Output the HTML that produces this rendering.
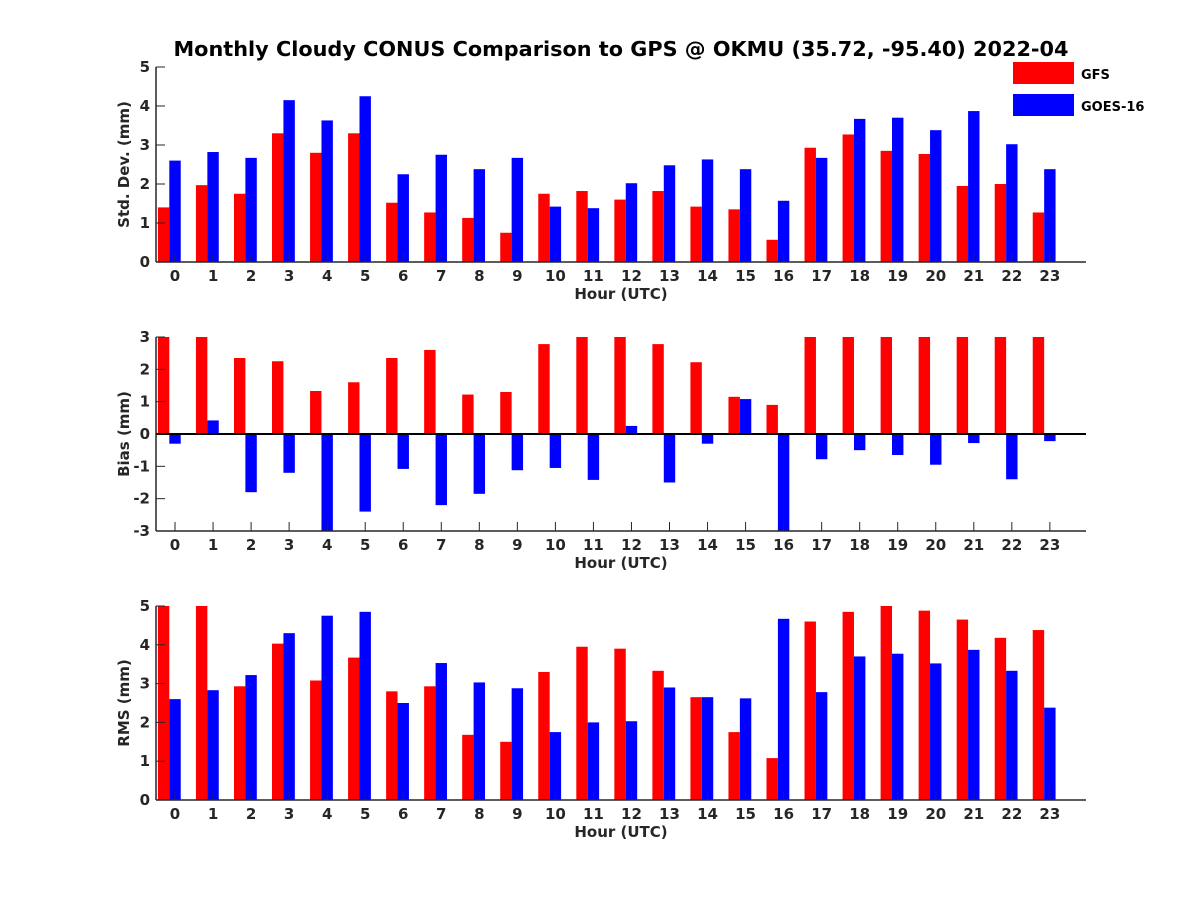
<!DOCTYPE html>
<html><head><meta charset="utf-8"><style>
body{margin:0;background:#fff}
svg text{font-family:"DejaVu Sans","Liberation Sans",sans-serif;font-weight:bold;fill:#262626}
</style></head><body>
<svg id="c" width="1200" height="900" xmlns="http://www.w3.org/2000/svg">
<rect width="1200" height="900" fill="#fff"/>
<text x="621" y="56" text-anchor="middle" font-size="20.8" style="fill:#000">Monthly Cloudy CONUS Comparison to GPS @ OKMU (35.72, -95.40) 2022-04</text>
<g>
<rect x="1013" y="62" width="61" height="22" fill="#ff0000"/>
<text x="1081" y="79" font-size="13" style="fill:#000">GFS</text>
<rect x="1013" y="94" width="61" height="22" fill="#0000ff"/>
<text x="1081" y="111" font-size="13" style="fill:#000">GOES-16</text>
</g>
</svg>
<script>
const hours=[0,1,2,3,4,5,6,7,8,9,10,11,12,13,14,15,16,17,18,19,20,21,22,23];
const stdGFS=[1.4,1.97,1.75,3.3,2.8,3.3,1.52,1.27,1.13,0.75,1.75,1.82,1.6,1.82,1.42,1.35,0.57,2.93,3.27,2.85,2.77,1.95,2.0,1.27];
const stdGOES=[2.6,2.82,2.67,4.15,3.63,4.25,2.25,2.75,2.38,2.67,1.42,1.38,2.02,2.48,2.63,2.38,1.57,2.67,3.67,3.7,3.38,3.87,3.02,2.38];
const biasGFS=[3.5,3.5,2.35,2.25,1.33,1.6,2.35,2.6,1.22,1.3,2.78,3.5,3.5,2.78,2.22,1.15,0.9,3.5,3.5,3.5,3.5,3.5,3.5,3.5];
const biasGOES=[-0.3,0.42,-1.8,-1.2,-3.5,-2.4,-1.08,-2.2,-1.85,-1.12,-1.05,-1.42,0.25,-1.5,-0.3,1.08,-3.5,-0.78,-0.5,-0.65,-0.95,-0.28,-1.4,-0.22];
const rmsGFS=[5.1,5.1,2.93,4.03,3.08,3.67,2.8,2.93,1.68,1.5,3.3,3.95,3.9,3.33,2.65,1.75,1.08,4.6,4.85,5.0,4.88,4.65,4.18,4.38];
const rmsGOES=[2.6,2.83,3.22,4.3,4.75,4.85,2.5,3.53,3.03,2.88,1.75,2.0,2.03,2.9,2.65,2.62,4.67,2.78,3.7,3.77,3.52,3.87,3.33,2.38];
const stdTicks=[0,1,2,3,4,5];
const biasTicks=[-3,-2,-1,0,1,2,3];
const rmsTicks=[0,1,2,3,4,5];

const svg=document.getElementById('c');
const NS='http://www.w3.org/2000/svg';
function mk(tag,attrs,parent){const e=document.createElementNS(NS,tag);for(const k in attrs)e.setAttribute(k,attrs[k]);(parent||svg).appendChild(e);return e;}
const X0=156,X1=1086,XMIN=-0.5,XMAX=23.95;
function xs(v){return X0+(v-XMIN)/(XMAX-XMIN)*(X1-X0);}

function panel(name,top,bot,ymin,ymax,ticks,g1,g2,ylabel){
  const g=mk('g',{});
  
  
  function ys(v){v=Math.max(ymin,Math.min(ymax,v));return bot-(v-ymin)/(ymax-ymin)*(bot-top);}
  const base=ys(Math.max(ymin,0));
  hours.forEach((h,i)=>{
    [[g1,'#ff0000',-0.45,'gfs'],[g2,'#0000ff',-0.15,'goes']].forEach(([arr,col,off,s])=>{
      const v=arr[i];const y1=ys(v);
      const r=mk('rect',{x:xs(h+off),y:Math.min(y1,base),width:xs(h+off+0.3)-xs(h+off),height:Math.abs(base-y1),fill:col},g);
      
      
    });
  });
  mk('line',{x1:X0,y1:bot,x2:X1,y2:bot,stroke:'#262626','stroke-width':1.5},g);
  mk('line',{x1:X0,y1:top,x2:X0,y2:bot,stroke:'#262626','stroke-width':1.5},g);
  if(ymin<0) mk('line',{x1:X0,y1:ys(0),x2:X1,y2:ys(0),stroke:'#000','stroke-width':2},g);
  hours.forEach(h=>{
    mk('line',{x1:xs(h),y1:bot,x2:xs(h),y2:bot-9,stroke:'#262626'},g);
    const t=mk('text',{x:xs(h),y:bot+19,'text-anchor':'middle','font-size':15},g);t.textContent=h;
    
    
  });
  ticks.forEach(v=>{
    mk('line',{x1:X0,y1:ys(v),x2:X0+9,y2:ys(v),stroke:'#262626'},g);
    const t=mk('text',{x:X0-6,y:ys(v)+5,'text-anchor':'end','font-size':15},g);t.textContent=v;
    
    
  });
  const xl=mk('text',{x:621,y:bot+37,'text-anchor':'middle','font-size':15},g);xl.textContent='Hour (UTC)';
  
  
  const cy=(top+bot)/2;
  const yl=mk('text',{x:0,y:0,'text-anchor':'middle','font-size':15,transform:'translate(129,'+cy+') rotate(-90)'},g);yl.textContent=ylabel;
  
  
}
panel('std-dev',67,262,0,5,stdTicks,stdGFS,stdGOES,'Std. Dev. (mm)');
panel('bias',337,531,-3,3,biasTicks,biasGFS,biasGOES,'Bias (mm)');
panel('rms',606,800,0,5,rmsTicks,rmsGFS,rmsGOES,'RMS (mm)');
</script>
</body></html>
